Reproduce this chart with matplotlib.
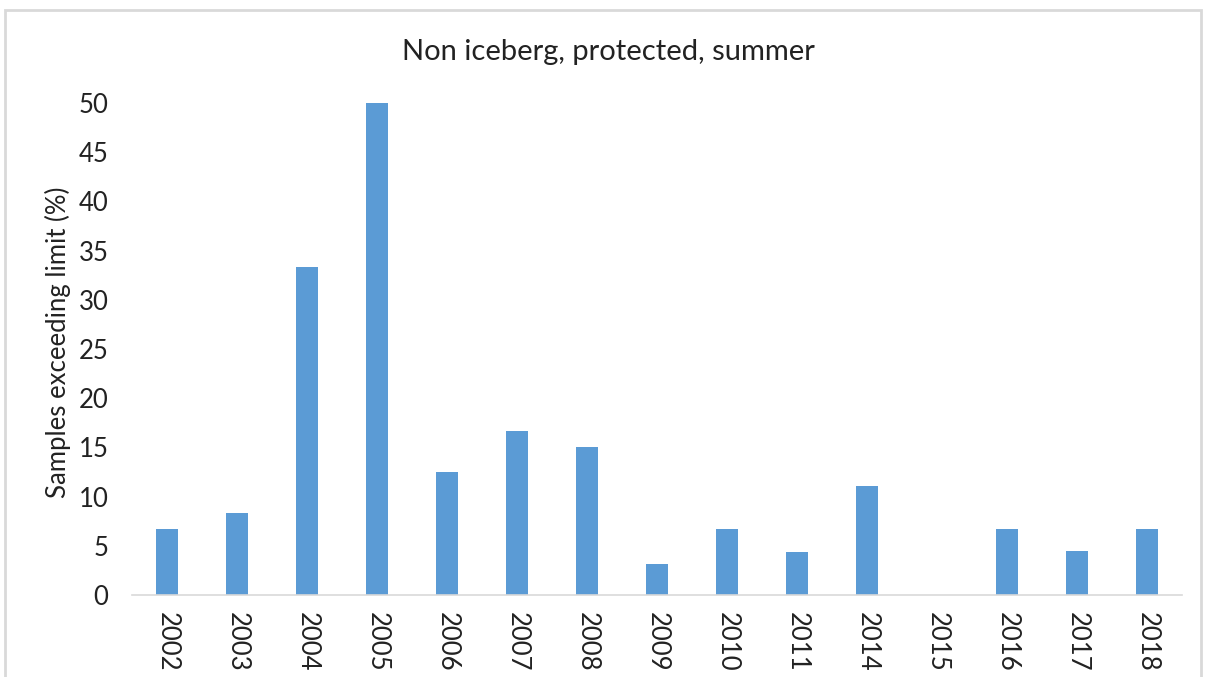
import matplotlib
matplotlib.use("Agg")
import matplotlib.pyplot as plt
from matplotlib.patches import Rectangle

years = ["2002", "2003", "2004", "2005", "2006", "2007", "2008", "2009",
         "2010", "2011", "2014", "2015", "2016", "2017", "2018"]
pct = [6.67, 8.33, 33.33, 50.0, 12.5, 16.67, 15.0, 3.2,
       6.67, 4.35, 11.11, 0.0, 6.67, 4.44, 6.67]

plt.rcParams['font.family'] = ['Lato', 'DejaVu Sans']

W, H = 1206, 677
fig = plt.figure(figsize=(W / 100, H / 100), dpi=100)

# outer chart frame (light gray, runs off the bottom)
fig.patches.append(Rectangle((5 / W, -0.05), 1196 / W, 1 - 10 / H + 0.05,
                             transform=fig.transFigure, fill=False,
                             edgecolor='#D9D9D9', linewidth=2))

ax = fig.add_axes([132 / W, 1 - 595 / H, 1050 / W, (595 - 103) / H])
x = range(len(years))
ax.bar(x, pct, width=0.31, color='#5B9BD5')
ax.set_xlim(-0.5, len(years) - 0.5)
ax.set_ylim(0, 50)
ax.set_yticks(range(0, 51, 5))
ax.set_xticks(list(x))
ax.set_xticklabels(years, rotation=270)
ax.tick_params(length=0, labelsize=18.5, colors='#222222')
ax.tick_params(axis='y', pad=17)
ax.tick_params(axis='x', pad=12)
for s in ['top', 'right', 'left']:
    ax.spines[s].set_visible(False)
ax.spines['bottom'].set_color('#D9D9D9')
ax.spines['bottom'].set_linewidth(1.2)

fig.text(58 / W, 1 - 342 / H, 'Samples exceeding limit (%)', rotation=90,
         ha='center', va='center', fontsize=18.5, color='#222222')
fig.text(608 / W, 1 - 52 / H, 'Non iceberg, protected, summer', ha='center', va='center',
         fontsize=21, color='#222222')

fig.savefig('out.png', dpi=100)
